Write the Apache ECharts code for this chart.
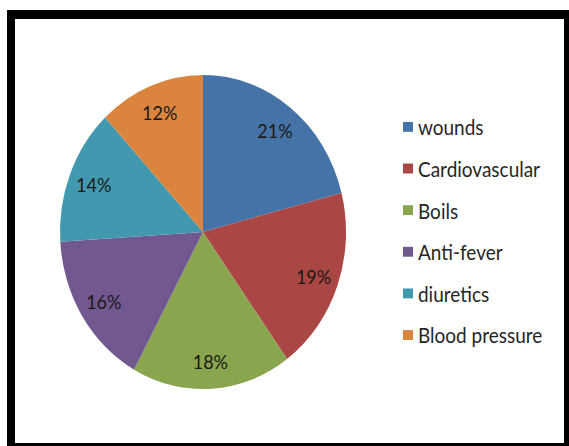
<!DOCTYPE html>
<html>
<head>
<meta charset="utf-8">
<script src="https://cdn.jsdelivr.net/npm/echarts@6/dist/echarts.min.js"></script>
<style>
  html, body { margin: 0; padding: 0; background: #ffffff; }
  #wrap { width: 569px; height: 446px; overflow: hidden; position: relative; }
  #chart { width: 569px; height: 406px; transform: scaleY(1.0985); transform-origin: 0 0; }
</style>
</head>
<body>
<div id="wrap"><div id="chart"></div></div>
<script>
const categories = ['wounds', 'Cardiovascular', 'Boils', 'Anti-fever', 'diuretics', 'Blood pressure'];
const values = [21, 19, 18, 16, 14, 12];
const colors = ['#4572A7', '#AA4643', '#89A54E', '#71588F', '#4198AF', '#DB843D'];

const pieData = categories.map((name, i) => ({ name: name, value: values[i], itemStyle: { color: colors[i] } }));
const labelData = categories.map((name, i) => ({ name: name, value: values[i] }));

const chart = echarts.init(document.getElementById('chart'), null, { renderer: 'svg' });
chart.setOption({
  animation: false,
  backgroundColor: '#ffffff',
  graphic: [
    { type: 'rect', z: -10, silent: true, shape: { x: 7, y: 9.1, width: 570, height: 400 }, style: { fill: '#000000' } },
    { type: 'rect', z: -9, silent: true, shape: { x: 15, y: 17.3, width: 549, height: 386 }, style: { fill: '#ffffff' } }
  ],
  legend: {
    orient: 'vertical',
    left: 403,
    top: 106,
    padding: 0,
    itemWidth: 10,
    itemHeight: 9,
    itemGap: 18.9,
    icon: 'rect',
    selectedMode: false,
    data: categories.map((name, i) => ({ name: name, itemStyle: { color: colors[i] } })),
    textStyle: { fontFamily: 'Lato', fontSize: 19, lineHeight: 16, color: '#262626', padding: [0, 0, 0, 0] }
  },
  series: [
    {
      type: 'pie',
      center: [203, 211.2],
      radius: [0, 143],
      startAngle: 90,
      clockwise: true,
      silent: true,
      label: { show: false },
      labelLine: { show: false },
      itemStyle: { borderWidth: 0 },
      data: pieData
    },
    {
      type: 'pie',
      center: [203, 211.2],
      radius: [86, 143],
      startAngle: 90,
      clockwise: true,
      silent: true,
      z: 3,
      itemStyle: { color: 'rgba(0,0,0,0)', borderWidth: 0 },
      label: {
        show: true,
        position: 'inside',
        formatter: '{c}%',
        fontFamily: 'Lato',
        fontSize: 18,
        color: '#1a1a1a'
      },
      labelLine: { show: false },
      data: labelData
    }
  ]
});
</script>
</body>
</html>
